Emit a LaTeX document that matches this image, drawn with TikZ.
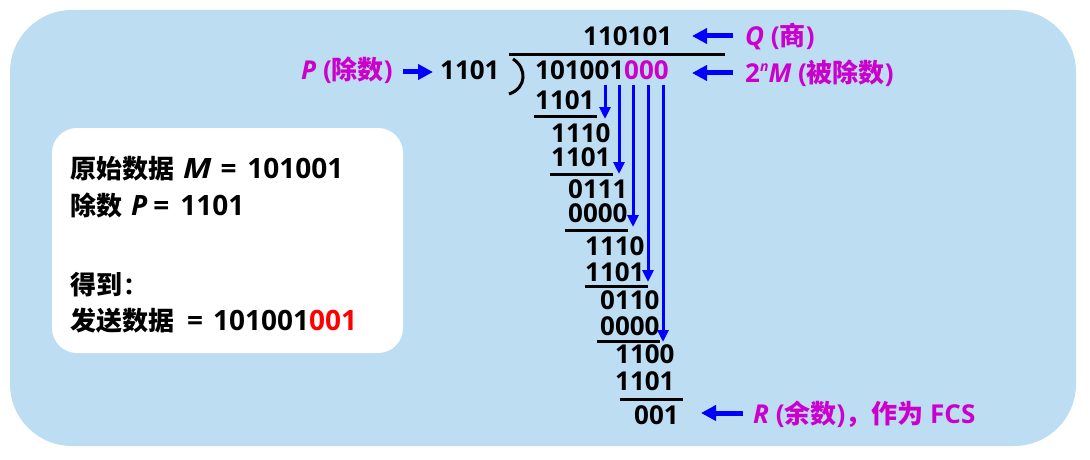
\documentclass[tikz,border=0pt]{standalone}
\usepackage{fontspec}
\setmainfont{Open Sans}
\newfontfamily\cjk{Noto Sans CJK SC}
\usetikzlibrary{arrows.meta}
\definecolor{bgblue}{HTML}{BDDDF2}
\definecolor{mag}{HTML}{CC00CC}
\definecolor{arrblue}{HTML}{0000FF}
\definecolor{redd}{HTML}{FF0000}
\newcommand{\cj}[1]{{\fontsize{26}{30}\selectfont\cjk #1}}
\tikzset{
  txt/.style={font=\fontsize{26}{30}\selectfont\bfseries, inner sep=0pt, anchor=base west, text=black},
  rowtxt/.style={txt, text depth=0pt, text height=17pt},
  boxtxt/.style={txt, font=\fontsize{28}{30}\selectfont\bfseries},
  magtxt/.style={txt, text=mag},
  bigarr/.style={draw=arrblue, line width=5pt, -{Triangle[length=15pt,width=15pt]}},
  smallarr/.style={draw=arrblue, line width=3pt, -{Triangle[length=12pt,width=11pt]}},
  rulel/.style={draw=black, line width=3pt},
}
\begin{document}
\begin{tikzpicture}[x=1pt,y=-1pt]
\useasboundingbox (0,0) rectangle (1090,460);
\fill[white] (0,0) rectangle (1090,460);
\fill[bgblue, rounded corners=62pt] (10,10) rectangle (1076,446);
\fill[white, rounded corners=25pt] (52,128) rectangle (403,353);

% info box
\node[boxtxt] (l1) at (70,178) {\cj{原始数据}\hspace{9pt}\scalebox{1.15}[1]{\itshape M}\hspace{9pt}=\hspace{11pt}101001};
\node[boxtxt] (l2) at (70,215) {\cj{除数}\hspace{9pt}{\itshape P}\hspace{6pt}=\hspace{11pt}1101};
\node[boxtxt] (l3) at (70,294) {\cj{得到}\hspace{3pt}:};
\node[boxtxt] (l4) at (70,330) {\cj{发送数据}\hspace{13pt}=\hspace{10pt}101001\textcolor{redd}{001}};

% division header
\node[txt] (quot) at (583,46) {110101};
\node[txt] (divd) at (535,80) {101001\textcolor{mag}{000}};
\node[txt] (divs) at (440,80) {1101};
\node[magtxt] (plab) at (301,80) {{\itshape P} ({\cjk 除数})};
\node[magtxt] (qlab) at (745,46) {{\itshape Q} ({\cjk 商})};
\node[magtxt] (mlab) at (745,82) {2\raisebox{0.42em}{\fontsize{14}{14}\selectfont\itshape n}{\itshape M} ({\cjk 被除数})};
\node[magtxt] (rlab) at (753,423) {{\itshape R} ({\cjk 余数}){\cjk ，作为} FCS};

\draw[rulel] (509,55) -- (725,55);
\draw[draw=black, line width=3pt] (513,59) .. controls (527,68) and (527,88) .. (509,94);

% rows
\node[rowtxt] (r1) at (535,109) {1101};
\node[rowtxt] (r2) at (551,142) {1110};
\node[rowtxt] (r3) at (551,166) {1101};
\node[rowtxt] (r4) at (568,198) {0111};
\node[rowtxt] (r5) at (568,222) {0000};
\node[rowtxt] (r6) at (585,255) {1110};
\node[rowtxt] (r7) at (585,281) {1101};
\node[rowtxt] (r8) at (600,309) {0110};
\node[rowtxt] (r9) at (600,335) {0000};
\node[rowtxt] (r10) at (615,363) {1100};
\node[rowtxt] (r11) at (615,390) {1101};
\node[rowtxt] (r12) at (634,424) {001};

\draw[rulel] (534,116.5) -- (597,116.5);
\draw[rulel] (550,174) -- (613,174);
\draw[rulel] (565,230) -- (628,230);
\draw[rulel] (585,286) -- (648,286);
\draw[rulel] (597,341) -- (660,341);
\draw[rulel] (620,399) -- (683,399);

% bring-down arrows
\coordinate (a1s) at (605,85); \coordinate (a1e) at (605,119);
\coordinate (a2s) at (619,85); \coordinate (a2e) at (619,174);
\coordinate (a3s) at (633,85); \coordinate (a3e) at (633,227);
\coordinate (a4s) at (648,85); \coordinate (a4e) at (648,282);
\coordinate (a5s) at (663,85); \coordinate (a5e) at (663,342);
\draw[smallarr] (a1s) -- (a1e);
\draw[smallarr] (a2s) -- (a2e);
\draw[smallarr] (a3s) -- (a3e);
\draw[smallarr] (a4s) -- (a4e);
\draw[smallarr] (a5s) -- (a5e);

% big arrows
\coordinate (qa) at (733,36); \coordinate (qb) at (692,36);
\coordinate (ma) at (733,73); \coordinate (mb) at (692,73);
\coordinate (pa) at (403,72); \coordinate (pb) at (433,72);
\coordinate (ra) at (743,413); \coordinate (rb) at (701,413);
\draw[bigarr] (qa) -- (qb);
\draw[bigarr] (ma) -- (mb);
\draw[bigarr] (pa) -- (pb);
\draw[bigarr] (ra) -- (rb);
\end{tikzpicture}
\end{document}
